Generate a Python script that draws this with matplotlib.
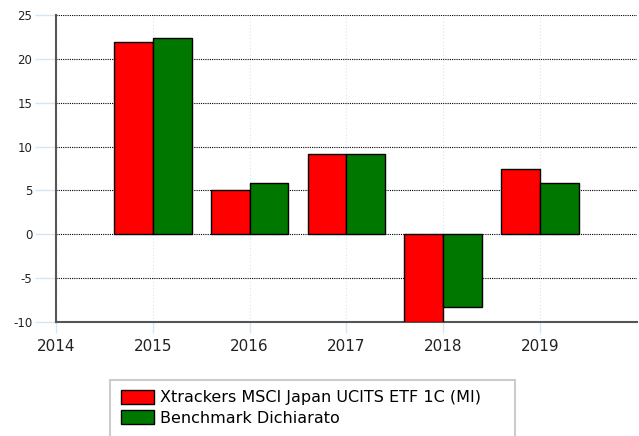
import matplotlib
matplotlib.use('Agg')
import numpy as np
import matplotlib.pyplot as plt
from matplotlib.patches import Rectangle

plt.rcParams['axes.unicode_minus'] = False

years = [2015, 2016, 2017, 2018, 2019]
fondo = [21.9, 5.1, 9.2, -10.0, 7.5]
benchmark = [22.4, 5.8, 9.2, -8.3, 5.8]
labels = ['Xtrackers MSCI Japan UCITS ETF 1C (MI)', 'Benchmark Dichiarato']

fig = plt.figure(figsize=(6.39, 4.36), dpi=100)
ax = fig.add_axes([0.0876, 0.2615, 0.909, 0.704])

x = np.array(years)
w = 0.4
ax.bar(x - w / 2, fondo, w, color='#ff0000', edgecolor='black', linewidth=1, zorder=3, label=labels[0])
ax.bar(x + w / 2, benchmark, w, color='#007800', edgecolor='black', linewidth=1, zorder=3, label=labels[1])

ax.set_xlim(2014, 2020)
ax.set_ylim(-10, 25)
ax.set_yticks(np.arange(-10, 26, 5))
ax.set_xticks(np.arange(2014, 2020))

# griglia orizzontale nera puntinata, verticale azzurra
ax.yaxis.grid(True, linestyle=(0, (1, 1)), color='black', linewidth=0.8, zorder=1)
ax.xaxis.grid(True, linestyle=(0, (1, 2)), color='#d6e6f5', linewidth=0.8, zorder=1)

for s in ['top', 'right']:
    ax.spines[s].set_visible(False)
for s in ['left', 'bottom']:
    ax.spines[s].set_color('#555555')
    ax.spines[s].set_linewidth(1.5)

ax.tick_params(axis='y', length=15, color='#d6e6f5', width=1, labelsize=8.5, labelcolor='#222222', pad=2)
ax.tick_params(axis='x', length=8, color='#d6e6f5', width=1, labelsize=11, labelcolor='#222222', pad=4)

# riquadro legenda (tagliato in basso)
box = Rectangle((110 / 639, -0.02), 405 / 639, 0.02 + 1 - 380 / 436, transform=fig.transFigure,
                facecolor='white', edgecolor='#cccccc', linewidth=1.5)
fig.patches.append(box)

leg = fig.legend(loc='upper left', bbox_to_anchor=(121 / 639, 1 - 390 / 436), frameon=False,
                 fontsize=11.5, handlelength=2.05, handleheight=0.95, handletextpad=0.4,
                 borderpad=0, labelspacing=0.3, borderaxespad=0)

fig.savefig('out.png', dpi=100)
